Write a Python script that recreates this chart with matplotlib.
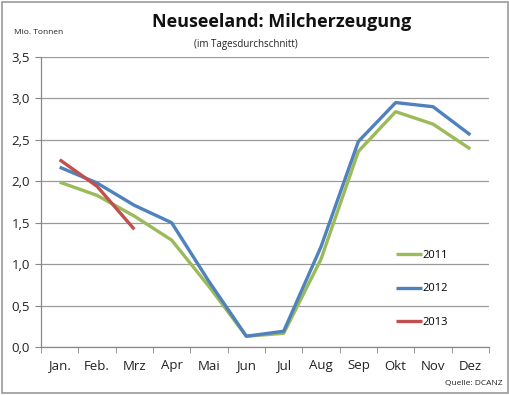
import matplotlib
matplotlib.use("Agg")
import matplotlib.pyplot as plt
from matplotlib.patches import Rectangle
from matplotlib.ticker import MultipleLocator, FuncFormatter

months = ["Jan.", "Feb.", "Mrz", "Apr", "Mai", "Jun", "Jul", "Aug", "Sep", "Okt", "Nov", "Dez"]
v2011 = [1.99, 1.83, 1.58, 1.29, 0.73, 0.13, 0.165, 1.06, 2.36, 2.84, 2.69, 2.39]
v2012 = [2.17, 1.98, 1.71, 1.50, 0.79, 0.13, 0.19, 1.21, 2.48, 2.95, 2.90, 2.56]
v2013 = [2.26, 1.94, 1.42]
series = [("2011", v2011, "#9BBB59"), ("2012", v2012, "#4F81BD"), ("2013", v2013, "#C0504D")]

plt.rcParams['font.family'] = ['Open Sans', 'DejaVu Sans']

fig = plt.figure(figsize=(5.10, 3.95), dpi=100)
ax = fig.add_axes([41/510, 1-347/395, 448/510, 290/395])

for name, vals, col in series:
    ax.plot(range(len(vals)), vals, color=col, lw=2.4, label=name, solid_capstyle='butt')

ax.set_xlim(-0.5, 11.5)
ax.set_ylim(0, 3.5)
ax.yaxis.set_major_locator(MultipleLocator(0.5))
ax.yaxis.set_major_formatter(FuncFormatter(lambda v, p: f"{v:.1f}".replace('.', ',')))
ax.set_xticks(range(12))
ax.set_xticklabels(months)
ax.set_xticks([i + 0.5 for i in range(-1, 12)], minor=True)
ax.tick_params(axis='x', which='major', length=0, pad=9, labelsize=9.5, colors='#222222')
ax.tick_params(axis='x', which='minor', length=4, color='#888888', direction='out')
ax.tick_params(axis='y', length=4, color='#888888', labelsize=9.5, colors='#222222', pad=4)
ax.grid(axis='y', color='#9a9a9a', lw=0.9)
ax.set_axisbelow(True)
for s in ['top', 'right']:
    ax.spines[s].set_visible(False)
for s in ['left', 'bottom']:
    ax.spines[s].set_color('#888888')
    ax.spines[s].set_linewidth(0.9)

leg = ax.legend(loc='upper left', bbox_to_anchor=(0.77, 0.37), frameon=False,
                fontsize=8, handlelength=2.3, handletextpad=0.1, labelspacing=2.05)

fig.text(282/510, 1-22/395, "Neuseeland: Milcherzeugung", ha='center', va='center',
         fontsize=13, fontweight='bold', color='#111111')
fig.text(246/510, 1-44/395, "(im Tagesdurchschnitt)", ha='center', va='center',
         fontsize=7, color='#222222')
fig.text(14/510, 1-33/395, "Mio. Tonnen", ha='left', va='center', fontsize=6, color='#222222')
fig.text(503/510, 1-383/395, "Quelle: DCANZ", ha='right', va='center', fontsize=6, color='#222222')

fig.patches.append(Rectangle((0.004, 0.004), 0.992, 0.992, transform=fig.transFigure,
                             fill=False, edgecolor='#999999', lw=1.2))

fig.savefig("out.png", dpi=100)
